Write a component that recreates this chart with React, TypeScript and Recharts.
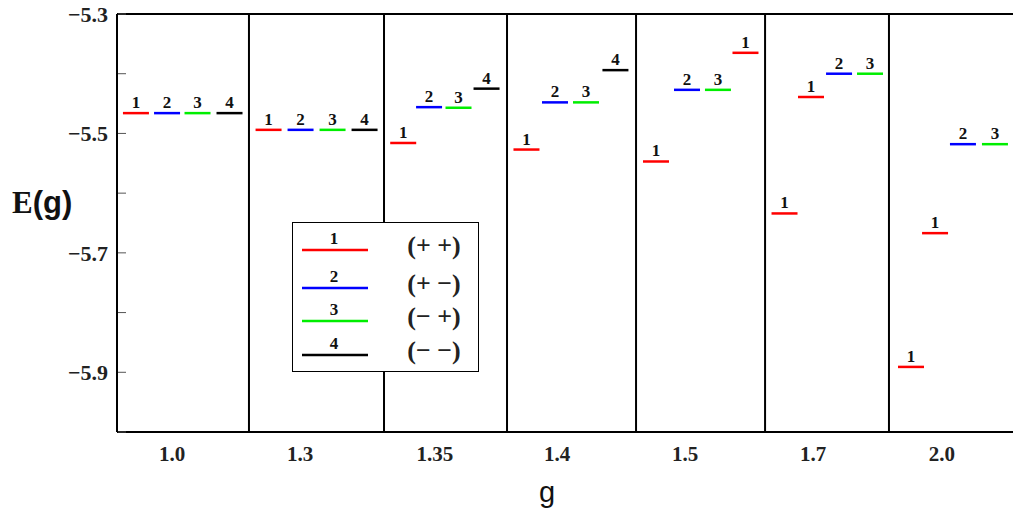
import { ScatterChart, Scatter, XAxis, YAxis, ReferenceLine, Legend } from 'recharts'

// group (g value) tick labels and where they sit on the x scale (one unit per group)
const gLabels = ['1.0', '1.3', '1.35', '1.4', '1.5', '1.7', '2.0']
const gTicks = [0.43, 1.43, 2.484, 3.438, 4.438, 5.438, 6.445]
const separators = [1.031, 2.086, 3.047, 4.055, 5.063, 6.031]

const yTicks = [-6.0, -5.9, -5.8, -5.7, -5.6, -5.5, -5.4, -5.3]
const yLabelled = [-5.9, -5.7, -5.5, -5.3]

// energy levels per state
const redX = [0.148, 1.184, 2.236, 3.199, 4.211, 4.91, 5.215, 5.422, 6.203, 6.391]
const redE = [-5.466, -5.494, -5.516, -5.527, -5.547, -5.365, -5.634, -5.439, -5.891, -5.667]
const blueX = [0.391, 1.434, 2.438, 3.422, 4.453, 5.641, 6.609]
const blueE = [-5.466, -5.494, -5.456, -5.448, -5.427, -5.4, -5.518]
const greenX = [0.629, 1.684, 2.668, 3.664, 4.695, 5.883, 6.859]
const greenE = [-5.466, -5.494, -5.457, -5.448, -5.427, -5.4, -5.518]
const blackX = [0.879, 1.934, 2.887, 3.894]
const blackE = [-5.466, -5.494, -5.425, -5.394]

const stateLabels = ['1', '2', '3', '4']
const stateColors = ['#ff0000', '#0000ff', '#00ee00', '#000000']
const stateSigns = ['(+ +)', '(+ \u2212)', '(\u2212 +)', '(\u2212 \u2212)']

const toPoints = (xs: number[], es: number[]) => xs.map((x, i) => ({ x, e: es[i] }))
const series = [
  toPoints(redX, redE),
  toPoints(blueX, blueE),
  toPoints(greenX, greenE),
  toPoints(blackX, blackE),
]

const SERIF = '"Liberation Serif", "Times New Roman", serif'
const SANS = '"Liberation Sans", Arial, sans-serif'

function Level(props: any) {
  const { cx, cy, color, text } = props
  if (cx == null || cy == null) return null
  return (
    <g>
      <line x1={cx - 13} x2={cx + 13} y1={cy} y2={cy} stroke={color} strokeWidth={2.5} />
      <text x={cx} y={cy - 5} textAnchor="middle" fontFamily={SERIF} fontWeight="bold" fontSize={17} fill="#111">
        {text}
      </text>
    </g>
  )
}

function LeftTick(props: any) {
  const { x, y, payload } = props
  const show = yLabelled.some((v) => Math.abs(v - payload.value) < 1e-6)
  return (
    <g>
      <line x1={x + 10} x2={x + 18} y1={y} y2={y} stroke="#555" strokeWidth={1} />
      {show && (
        <text x={x} y={y} dy="0.35em" textAnchor="end" fontFamily={SERIF} fontWeight="bold" fontSize={22} fill="#222">
          {'\u2212' + Math.abs(payload.value).toFixed(1)}
        </text>
      )}
    </g>
  )
}

function RightTick(props: any) {
  const { x, y } = props
  return <line x1={x - 8} x2={x} y1={y} y2={y} stroke="#555" strokeWidth={1} />
}

function LegendBox() {
  const rows = [27, 65, 98, 132]
  return (
    <div style={{ width: 187, height: 150, border: '1px solid #000', background: '#fff', boxSizing: 'border-box' }}>
      <svg width={185} height={148}>
        {stateLabels.map((l, i) => (
          <g key={l}>
            <line x1={9} x2={75} y1={rows[i]} y2={rows[i]} stroke={stateColors[i]} strokeWidth={2.5} />
            <text x={41} y={rows[i] - 6} textAnchor="middle" fontFamily={SERIF} fontWeight="bold" fontSize={17} fill="#111">
              {l}
            </text>
            <text x={141} y={rows[i] - 5} dy="0.35em" textAnchor="middle" fontFamily={SERIF} fontWeight="bold" fontSize={26} fill="#222">
              {stateSigns[i]}
            </text>
          </g>
        ))}
      </svg>
    </div>
  )
}

export default function App() {
  return (
    <div style={{ position: 'absolute', left: 0, top: 0, background: '#fff' }}>
      <ScatterChart width={1013} height={512} margin={{ top: 14, right: 0, bottom: 0, left: 0 }}>
        <XAxis
          type="number"
          dataKey="x"
          domain={[0, 7]}
          ticks={gTicks}
          interval={0}
          tickFormatter={(_v: number, i: number) => gLabels[i]}
          tickLine={false}
          tickSize={0}
          tickMargin={14}
          height={80}
          axisLine={{ stroke: '#000', strokeWidth: 2 }}
          tick={{ fontFamily: SERIF, fontWeight: 'bold', fontSize: 21, fill: '#222' }}
          label={{
            content: (p: any) => {
              const vb = p.viewBox
              return (
                <text x={vb.x + vb.width * 0.48} y={vb.y + 70} textAnchor="middle" fontFamily={SANS} fontSize={29} fill="#111">
                  g
                </text>
              )
            },
          }}
        />
        <YAxis
          yAxisId="left"
          type="number"
          dataKey="e"
          domain={[-6.0, -5.3]}
          ticks={yTicks}
          interval={0}
          width={117}
          tickLine={false}
          tickSize={0}
          tickMargin={9}
          axisLine={{ stroke: '#000', strokeWidth: 2 }}
          tick={<LeftTick />}
          label={{
            content: (p: any) => {
              const vb = p.viewBox
              return (
                <text x={vb.x + 12} y={vb.y + vb.height * 0.477} fontWeight="bold" fontSize={31} fill="#111">
                  <tspan fontFamily={SERIF}>E</tspan>
                  <tspan fontFamily={SANS}>(g)</tspan>
                </text>
              )
            },
          }}
        />
        <YAxis
          yAxisId="right"
          orientation="right"
          type="number"
          domain={[-6.0, -5.3]}
          ticks={yTicks}
          interval={0}
          width={0}
          tickLine={false}
          tickSize={0}
          tickMargin={0}
          axisLine={false}
          tick={<RightTick />}
        />
        <ReferenceLine yAxisId="left" y={-5.3} stroke="#000" strokeWidth={2} />
        {separators.map((s) => (
          <ReferenceLine key={s} yAxisId="left" x={s} stroke="#000" strokeWidth={2} />
        ))}
        {series.map((pts, i) => (
          <Scatter
            key={stateLabels[i]}
            yAxisId="left"
            data={pts}
            isAnimationActive={false}
            shape={(p: any) => <Level {...p} color={stateColors[i]} text={stateLabels[i]} />}
          />
        ))}
        <Legend
          layout="vertical"
          align="center"
          verticalAlign="middle"
          content={() => <LegendBox />}
          wrapperStyle={{ position: 'absolute', left: 292, top: 222, width: 187, height: 150 }}
        />
      </ScatterChart>
    </div>
  )
}
